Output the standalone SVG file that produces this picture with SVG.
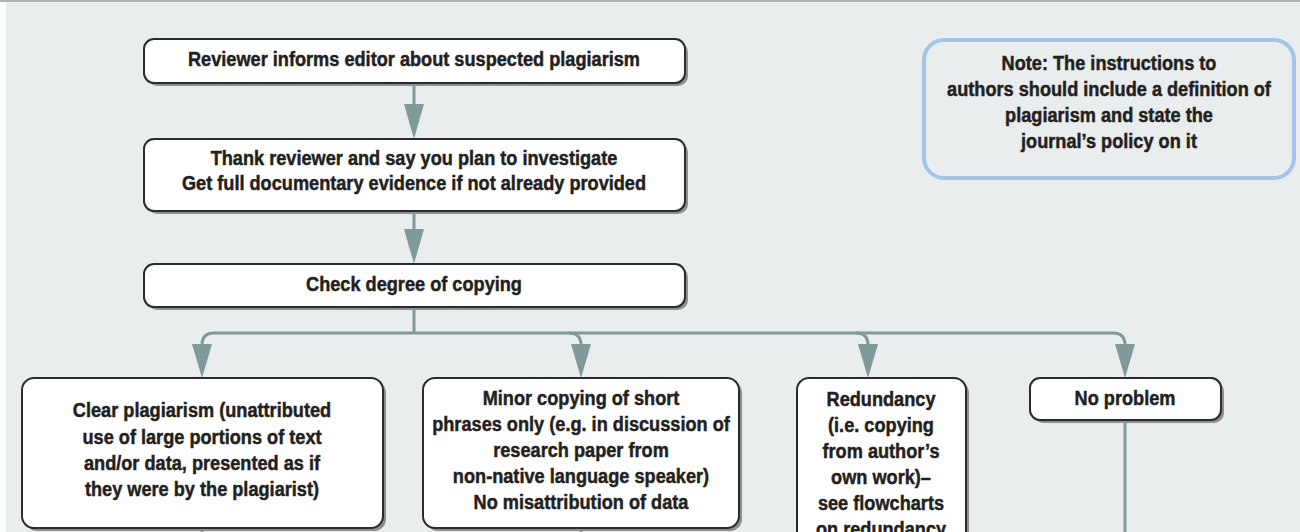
<svg xmlns="http://www.w3.org/2000/svg" width="1300" height="532" viewBox="0 0 1300 532">
<defs>
<style>
.box{fill:#ffffff;stroke:#2b2b2b;stroke-width:2}
.shadow{fill:#8f8f8f}
.t{font-family:"Liberation Sans",Arial,sans-serif;font-weight:bold;font-size:21px;fill:#231f20;stroke:#231f20;stroke-width:0.5;text-anchor:middle}
.ln{fill:none;stroke:#7f9a99;stroke-width:3}
.note{fill:#e9eded;stroke:#a6c4e9;stroke-width:4}
.ah{fill:#7f9a99}
</style>
</defs>
<rect x="0" y="0" width="1300" height="532" fill="#ffffff"/>
<rect x="6" y="0" width="1294" height="532" fill="#e9eded"/>
<rect x="0" y="0" width="1300" height="2" fill="#a9b8b5"/>

<g id="connectors">
<line class="ln" x1="414" y1="83" x2="414" y2="104"/>
<path class="ah" d="M404,104 L424,104 L414,139 Z"/>
<line class="ln" x1="414" y1="211" x2="414" y2="229"/>
<path class="ah" d="M404,229 L424,229 L414,264 Z"/>
<line class="ln" x1="414" y1="307" x2="414" y2="333"/>
<path class="ln" d="M202,345 Q202,333 214,333 L1113,333 Q1125,333 1125,345"/>
<path class="ln" d="M569,333 Q581,333 581,345"/>
<path class="ln" d="M856,333 Q868,333 868,345"/>
<path class="ah" d="M192,344 L212,344 L202,378 Z"/>
<path class="ah" d="M571,344 L591,344 L581,378 Z"/>
<path class="ah" d="M858,344 L878,344 L868,378 Z"/>
<path class="ah" d="M1115,344 L1135,344 L1125,378 Z"/>
<line class="ln" x1="202" y1="528" x2="202" y2="532"/>
<line class="ln" x1="581" y1="528" x2="581" y2="532"/>
<line class="ln" x1="1125" y1="420" x2="1125" y2="532"/>
</g>

<g id="n1">
<rect class="shadow" x="147" y="42" width="541" height="44" rx="10"/>
<rect class="box" x="144" y="39" width="541" height="44" rx="10"/>
<g transform="translate(414,0) scale(0.865,1)">
<text class="t" x="0" y="66">Reviewer informs editor about suspected plagiarism</text>
</g>
</g>

<g id="n2">
<rect class="shadow" x="147" y="142" width="541" height="72" rx="10"/>
<rect class="box" x="144" y="139" width="541" height="72" rx="10"/>
<g transform="translate(414,0) scale(0.865,1)">
<text class="t" x="0" y="165">Thank reviewer and say you plan to investigate</text>
<text class="t" x="0" y="190">Get full documentary evidence if not already provided</text>
</g>
</g>

<g id="n3">
<rect class="shadow" x="147" y="267" width="541" height="43" rx="10"/>
<rect class="box" x="144" y="264" width="541" height="43" rx="10"/>
<g transform="translate(414,0) scale(0.865,1)">
<text class="t" x="0" y="291">Check degree of copying</text>
</g>
</g>

<g id="note">
<rect class="note" x="924" y="40" width="370" height="138" rx="20"/>
<g transform="translate(1109,0) scale(0.865,1)">
<text class="t" x="0" y="70">Note: The instructions to</text>
<text class="t" x="0" y="96">authors should include a definition of</text>
<text class="t" x="0" y="122">plagiarism and state the</text>
<text class="t" x="0" y="148">journal’s policy on it</text>
</g>
</g>

<g id="n4">
<rect class="shadow" x="25" y="381" width="361" height="150" rx="12"/>
<rect class="box" x="22" y="378" width="361" height="150" rx="12"/>
<g transform="translate(202,0) scale(0.865,1)">
<text class="t" x="0" y="417">Clear plagiarism (unattributed</text>
<text class="t" x="0" y="444">use of large portions of text</text>
<text class="t" x="0" y="470">and/or data, presented as if</text>
<text class="t" x="0" y="496">they were by the plagiarist)</text>
</g>
</g>

<g id="n5">
<rect class="shadow" x="426" y="381" width="316" height="150" rx="12"/>
<rect class="box" x="423" y="378" width="316" height="150" rx="12"/>
<g transform="translate(581,0) scale(0.865,1)">
<text class="t" x="0" y="405">Minor copying of short</text>
<text class="t" x="0" y="431">phrases only (e.g. in discussion of</text>
<text class="t" x="0" y="457">research paper from</text>
<text class="t" x="0" y="483">non-native language speaker)</text>
<text class="t" x="0" y="509">No misattribution of data</text>
</g>
</g>

<g id="n6">
<rect class="shadow" x="800" y="381" width="169" height="170" rx="12"/>
<rect class="box" x="797" y="378" width="169" height="170" rx="12"/>
<g transform="translate(881,0) scale(0.865,1)">
<text class="t" x="0" y="406">Redundancy</text>
<text class="t" x="0" y="432">(i.e. copying</text>
<text class="t" x="0" y="458">from author’s</text>
<text class="t" x="0" y="484">own work)–</text>
<text class="t" x="0" y="510">see flowcharts</text>
<text class="t" x="0" y="536">on redundancy</text>
</g>
</g>

<g id="n7">
<rect class="shadow" x="1033" y="381" width="191" height="42" rx="10"/>
<rect class="box" x="1030" y="378" width="191" height="42" rx="10"/>
<g transform="translate(1125,0) scale(0.865,1)">
<text class="t" x="0" y="405">No problem</text>
</g>
</g>
</svg>
